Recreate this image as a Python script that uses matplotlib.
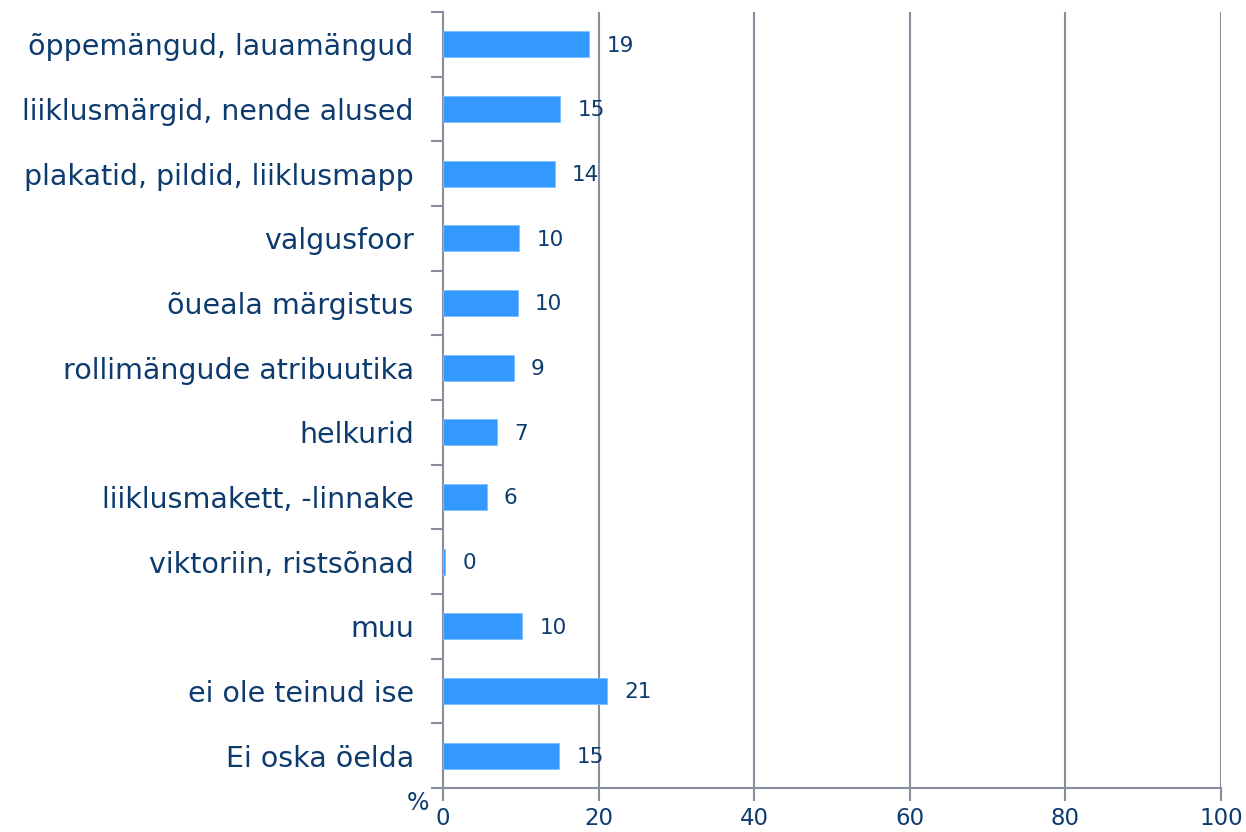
import matplotlib
matplotlib.use("Agg")
import matplotlib.pyplot as plt
import numpy as np

categories = [
    "õppemängud, lauamängud",
    "liiklusmärgid, nende alused",
    "plakatid, pildid, liiklusmapp",
    "valgusfoor",
    "õueala märgistus",
    "rollimängude atribuutika",
    "helkurid",
    "liiklusmakett, -linnake",
    "viktoriin, ristsõnad",
    "muu",
    "ei ole teinud ise",
    "Ei oska öelda",
]
values = [18.8, 15.1, 14.4, 9.8, 9.6, 9.1, 6.9, 5.6, 0.3, 10.2, 21.1, 14.95]
value_labels = ["19", "15", "14", "10", "10", "9", "7", "6", "0", "10", "21", "15"]
xticks = [0, 20, 40, 60, 80, 100]

TEXT = "#0d3b6e"
GRID = "#8a8ca0"
BAR = "#3399ff"

fig = plt.figure(figsize=(12.46, 8.32), dpi=100)
ax = fig.add_axes([443/1246, 1 - 788/832, (1221-443)/1246, (788-12)/832])

n = len(categories)
y = np.arange(n)
ax.barh(y, values, height=0.4, color=BAR, edgecolor="#7fbfff", linewidth=0.6, zorder=3)
for yi, v, lab in zip(y, values, value_labels):
    ax.text(v + 2.2, yi + 0.02, lab, va="center", ha="left", fontsize=15.5, color=TEXT, zorder=4)

ax.set_xlim(0, 100)
ax.set_ylim(n - 0.5, -0.5)
ax.set_xticks(xticks)
ax.set_xticklabels([str(t) for t in xticks], fontsize=16.5, color=TEXT)
ax.set_yticks(y)
ax.set_yticklabels(categories, fontsize=20.5, color=TEXT)
ax.tick_params(axis="y", which="major", length=0, pad=21)
ax.set_yticks(np.arange(-0.5, n, 1), minor=True)
ax.tick_params(axis="y", which="minor", length=9, width=1.5, color=GRID, direction="out")
ax.tick_params(axis="x", which="major", length=9, width=1.5, color=GRID, direction="out", pad=5)

for t in xticks[1:]:
    ax.axvline(t, color=GRID, linewidth=1.5, zorder=1)

for s in ["top", "right"]:
    ax.spines[s].set_visible(False)
for s in ["left", "bottom"]:
    ax.spines[s].set_color(GRID)
    ax.spines[s].set_linewidth(1.5)

fig.text(418/1246, 1 - 803/832, "%", fontsize=17, color=TEXT, ha="center", va="center")

fig.savefig("out.png", dpi=100, facecolor="white")
